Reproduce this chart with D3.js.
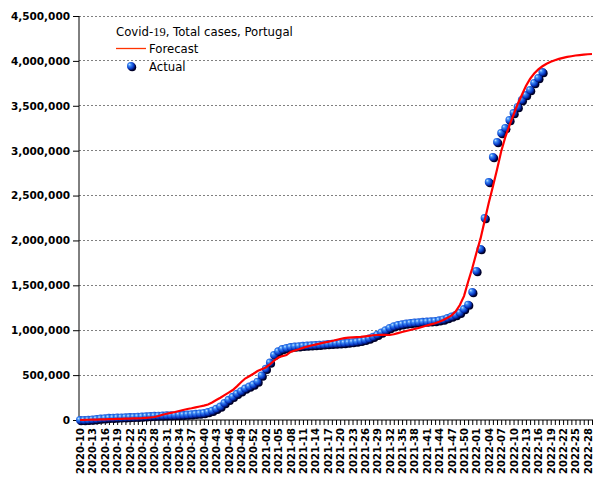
<!DOCTYPE html>
<html><head><meta charset="utf-8">
<script src="https://cdn.jsdelivr.net/npm/d3@7"></script>
<style>body{margin:0;background:#fff}svg{display:block}</style>
</head><body>
<svg id="c" width="605" height="480"></svg>
<script>
// ---- data ----
const weeks2020 = d3.range(10, 54).map(w => "2020-" + String(w).padStart(2, "0"));
const weeks2021 = d3.range(1, 53).map(w => "2021-" + String(w).padStart(2, "0"));
const weeks2022 = d3.range(1, 30).map(w => "2022-" + String(w).padStart(2, "0"));
const categories = weeks2020.concat(weeks2021, weeks2022);

// Actual cumulative cases (thousands), one per week from 2020-10
const actualK = [0,0.2,2,6.4,11.3,16.6,20.2,24,25.5,27.6,
 29,30.8,32.2,34.4,36.5,39.1,41.9,44.4,46.5,48.4,
 50.3,51.8,52.9,54.2,55.6,57.4,60.3,64.6,68.6,72.9,
 78.2,87.9,103.7,124.4,150,190,225,258,292,320,
 350,372,395,427,496,570,640,725,765,790,
 802,812,818,822,826,829,832,835,838,842,
 846,849,852,855,858,862,867,873,881,892,
 907,928,950,975,1000,1025,1045,1058,1067,1074,
 1080,1085,1089,1093,1096,1099,1103,1110,1120,1136,
 1152,1170,1195,1235,1285,1426,1660,1905,2250,2650,
 2930,3097,3197,3253,3342,3420,3487,3564,3620,3676,
 3754,3810,3876];

// Forecast cumulative cases (thousands), one per week from 2020-10
const forecastK = [0,1,3,4,5,6,8,9,10,12,
 13,15,16,17,19,20,24,28,33,45,
 58,70,80,89,100,112,123,131,141,150,
 160,172,195,222,248,277,305,334,375,420,
 462,488,515,545,565,585,620,660,695,712,
 724,758,775,788,803,818,830,840,850,862,
 870,880,891,902,912,917,920,923,926,932,
 938,944,947,948,948,947,955,968,980,991,
 1002,1013,1025,1038,1052,1065,1078,1095,1115,1138,
 1165,1210,1281,1380,1540,1690,1860,2020,2220,2420,
 2600,2790,2990,3150,3280,3400,3520,3620,3720,3800,
 3860,3905,3940,3968,3990,4008,4022,4034,4044,4052,
 4060,4065,4070,4074,4077];

const yTicks = [0,500000,1000000,1500000,2000000,2500000,3000000,3500000,4000000,4500000];
const titleParts = ["Covid-", "19", ", Total cases, Portugal"];
const seriesNames = ["Forecast", "Actual"];

// ---- chart ----
const svg = d3.select("#c");
const x = d3.scalePoint().domain(categories).range([80, 592]);
const y = d3.scaleLinear().domain([0, 4500000]).range([420, 16]);
const axisFont = "DejaVu Sans, sans-serif";

// gridlines
svg.append("g").selectAll("line").data(yTicks.slice(1)).join("line")
  .attr("x1", 79).attr("x2", 593)
  .attr("y1", d => y(d)).attr("y2", d => y(d))
  .attr("stroke", "#808080").attr("stroke-width", 1)
  .attr("stroke-dasharray", "2,2").attr("shape-rendering", "crispEdges");

// y axis
const yAxis = svg.append("g").attr("transform", "translate(79,0)")
  .call(d3.axisLeft(y).tickValues(yTicks).tickFormat(d3.format(",")).tickSize(6).tickPadding(3));
yAxis.select(".domain").attr("d", `M0,${y(4500000)}V${y(0)}`).attr("stroke", "#000");
yAxis.selectAll(".tick line").attr("stroke", "#000");
yAxis.selectAll("text").attr("font-family", axisFont).attr("font-weight", "bold")
  .attr("font-size", "10.5px").attr("fill", "#000");

// x axis
const xAxis = svg.append("g").attr("transform", "translate(0,420)")
  .call(d3.axisBottom(x).tickSize(5).tickPadding(3)
    .tickFormat((d, i) => i % 3 === 0 ? d : ""));
xAxis.select(".domain").attr("d", "M79,0H593").attr("stroke", "#000");
xAxis.selectAll(".tick line").attr("stroke", "#000");
xAxis.selectAll("text").attr("font-family", axisFont).attr("font-weight", "bold")
  .attr("font-size", "10px").attr("fill", "#000")
  .attr("transform", "rotate(-90)").attr("text-anchor", "end")
  .attr("x", -8).attr("y", 0).attr("dy", "0.35em");

// sphere gradient
const defs = svg.append("defs");
const g = defs.append("radialGradient").attr("id", "sph")
  .attr("cx", "40%").attr("cy", "40%").attr("r", "60%").attr("fx", "30%").attr("fy", "30%");
g.append("stop").attr("offset", "0%").attr("stop-color", "#c8e4ff");
g.append("stop").attr("offset", "30%").attr("stop-color", "#3d8cf5");
g.append("stop").attr("offset", "75%").attr("stop-color", "#0a3cc8");
g.append("stop").attr("offset", "100%").attr("stop-color", "#001470");

// actual points
const actual = actualK.map((v, i) => ({ c: categories[i], v: v * 1000 }));
const pts = svg.append("g");
pts.selectAll("circle.sh").data(actual).join("circle").attr("class", "sh")
  .attr("cx", d => x(d.c) + 1.2).attr("cy", d => y(d.v) + 1.2).attr("r", 4)
  .attr("fill", "#000028");
pts.selectAll("circle.pt").data(actual).join("circle").attr("class", "pt")
  .attr("cx", d => x(d.c)).attr("cy", d => y(d.v)).attr("r", 4)
  .attr("fill", "url(#sph)");

// forecast line
const forecast = forecastK.map((v, i) => ({ c: categories[i], v: v * 1000 }));
svg.append("path").datum(forecast)
  .attr("d", d3.line().x(d => x(d.c)).y(d => y(d.v)))
  .attr("fill", "none").attr("stroke", "#ff0000").attr("stroke-width", 2.2);

// legend
const lg = svg.append("g").attr("font-family", axisFont).attr("font-size", "11.7px").attr("fill", "#000");
const t = lg.append("text").attr("x", 116).attr("y", 36);
t.append("tspan").text(titleParts[0]);
t.append("tspan").attr("font-family", "Liberation Serif, serif").attr("font-size", "12.5px").text(titleParts[1]);
t.append("tspan").text(titleParts[2]);
lg.append("line").attr("x1", 116).attr("x2", 146).attr("y1", 48.5).attr("y2", 48.5)
  .attr("stroke", "#ff3300").attr("stroke-width", 1.3);
lg.append("text").attr("x", 149).attr("y", 53).text(seriesNames[0]);
lg.append("circle").attr("cx", 132.2).attr("cy", 67.2).attr("r", 4).attr("fill", "#000028");
lg.append("circle").attr("cx", 131).attr("cy", 66).attr("r", 4).attr("fill", "url(#sph)");
lg.append("text").attr("x", 149).attr("y", 71).text(seriesNames[1]);
</script>
</body></html>
